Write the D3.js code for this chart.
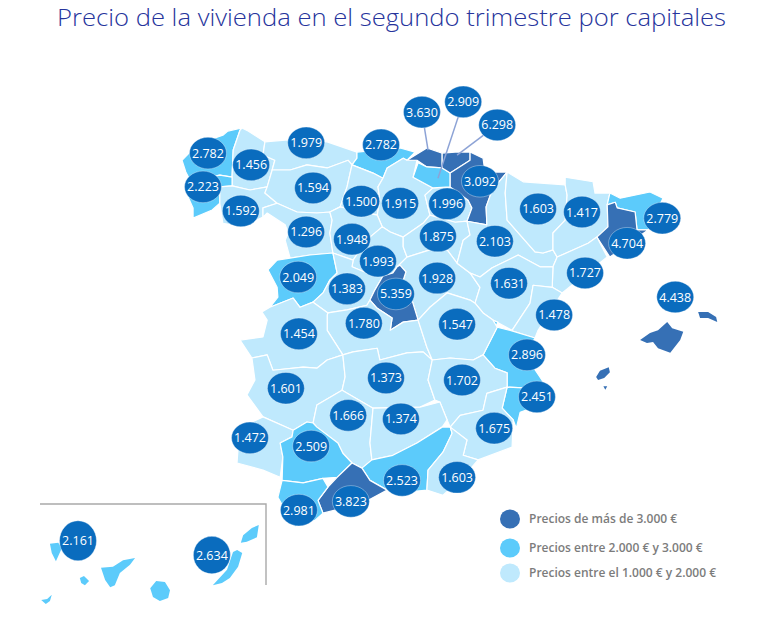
<!DOCTYPE html>
<html lang="es">
<head>
<meta charset="utf-8">
<title>Precio de la vivienda</title>
<script src="https://cdn.jsdelivr.net/npm/d3@7/dist/d3.min.js"></script>
<style>
html,body{margin:0;padding:0;background:#fff;}
svg{display:block;}
</style>
</head>
<body>
<svg id="chart" width="768" height="641"></svg>
<script>
const chartTitle = "Precio de la vivienda en el segundo trimestre por capitales";
const legendLabels = ["Precios de más de 3.000 €", "Precios entre 2.000 € y 3.000 €", "Precios entre el 1.000 € y 2.000 €"];
const tierThresholds = [2000, 3000];
const tierColors = ["#bfe9fd", "#5ccbfb", "#3670b5"];
const paleInReference = ["Zaragoza"];

const provinces = ["A Coruña","Lugo","Pontevedra","Ourense","Asturias","Cantabria","León","Palencia","Burgos","La Rioja","Zamora","Valladolid","Segovia","Soria","Salamanca","Ávila","Guadalajara","Bizkaia","Álava","Gipuzkoa","Navarra","Zaragoza","Huesca","Lleida","Girona","Barcelona","Tarragona","Teruel","Castellón","Valencia","Baleares","Madrid","Toledo","Cuenca","Cáceres","Badajoz","Ciudad Real","Albacete","Alicante","Murcia","Córdoba","Jaén","Huelva","Sevilla","Granada","Almería","Málaga","Cádiz","Santa Cruz de Tenerife","Las Palmas"];
const prices = [2782,1456,2223,1592,1979,2782,1594,1500,1915,1996,1296,1948,1993,1875,2049,1383,1928,3630,2909,6298,3092,2103,1603,1417,2779,4704,1727,1631,1478,2896,4438,5359,1780,1547,1454,1601,1373,1702,2451,1675,1666,1374,1472,2509,2523,1603,3823,2981,2161,2634];
const labelLon = [-8.62,-7.49,-8.75,-7.76,-6.05,-4.09,-5.87,-4.61,-3.59,-2.36,-6.05,-4.85,-4.17,-2.60,-6.26,-4.98,-2.62,-3.02,-1.94,-1.05,-1.50,-1.11,0.02,1.17,3.27,2.35,1.25,-0.74,0.44,-0.27,3.61,-3.70,-4.54,-2.10,-6.24,-6.58,-3.96,-1.97,-0.01,-1.13,-4.95,-3.57,-7.52,-5.92,-3.54,-2.10,-4.88,-6.24,-17.35,-14.44];
const labelLat = [43.30,43.07,42.64,42.17,43.50,43.46,42.62,42.36,42.32,42.31,41.76,41.62,41.19,41.68,40.88,40.65,40.86,44.10,44.30,43.85,42.75,41.58,42.21,42.15,42.03,41.54,40.96,40.76,40.14,39.36,40.49,40.55,39.98,39.96,39.77,38.71,38.91,38.87,38.54,37.93,38.18,38.11,37.74,37.58,36.91,36.97,36.50,36.33,28.92,28.64];
const canaryProvinces = ["Santa Cruz de Tenerife","Las Palmas"];
const islandProvinces = ["Baleares","Santa Cruz de Tenerife","Las Palmas"];
const leaderProvinces = ["Bizkaia","Álava","Gipuzkoa"];
const leaderTargets = [[-2.86,43.36],[-2.60,42.81],[-2.10,43.26]];

const outlines = {
"Lugo":[[[-7.73,43.79],[-7.57,43.73],[-7.13,43.52],[-7.18,43.26],[-6.87,43.16],[-6.94,42.97],[-7.07,42.64],[-7.52,42.58],[-7.99,42.66],[-7.99,42.83],[-7.96,43.36],[-7.78,43.75]]],
"Ourense":[[[-7.99,42.66],[-7.52,42.58],[-7.07,42.64],[-7.13,42.52],[-6.81,42.32],[-7.18,42.23],[-7.18,42.05],[-7.70,41.86],[-8.23,41.93],[-8.31,42.32],[-8.31,42.64]]],
"A Coruña":[[[-7.73,43.79],[-7.78,43.75],[-7.96,43.36],[-7.99,42.83],[-8.31,42.87],[-8.70,42.81],[-9.09,42.77],[-9.20,42.93],[-9.30,43.16],[-9.04,43.36],[-8.57,43.56],[-8.23,43.65],[-8.10,43.73]]],
"Pontevedra":[[[-9.09,42.77],[-8.70,42.81],[-8.31,42.87],[-7.99,42.83],[-7.99,42.66],[-8.31,42.64],[-8.31,42.32],[-8.51,42.19],[-9.01,42.03],[-9.01,42.23],[-9.20,42.54]]],
"Asturias":[[[-7.13,43.52],[-6.52,43.56],[-5.50,43.52],[-4.72,43.32],[-4.72,43.20],[-4.85,43.07],[-4.95,43.16],[-5.50,43.01],[-6.03,43.07],[-6.47,42.97],[-6.94,42.97],[-6.87,43.16],[-7.18,43.26]]],
"Cantabria":[[[-4.72,43.32],[-3.59,43.40],[-3.20,43.32],[-3.41,43.16],[-3.51,43.20],[-3.93,43.01],[-4.04,42.81],[-4.30,42.91],[-4.85,43.07],[-4.72,43.20]]],
"León":[[[-6.94,42.97],[-6.47,42.97],[-6.03,43.07],[-5.50,43.01],[-4.95,43.16],[-4.85,43.07],[-4.90,42.91],[-4.98,42.64],[-5.16,42.25],[-5.43,42.15],[-5.77,42.13],[-6.29,42.15],[-6.81,42.32],[-7.13,42.52],[-7.07,42.64]]],
"Palencia":[[[-4.85,43.07],[-4.30,42.91],[-4.04,42.81],[-4.17,42.64],[-4.12,42.38],[-4.19,42.09],[-5.16,42.25],[-4.98,42.64],[-4.90,42.91]]],
"Burgos":[[[-3.93,43.01],[-3.51,43.20],[-3.41,43.16],[-3.15,43.16],[-3.25,42.83],[-2.73,42.62],[-2.94,42.48],[-2.81,42.09],[-2.99,41.93],[-3.51,41.66],[-3.85,41.76],[-4.06,41.86],[-4.19,42.09],[-4.12,42.38],[-4.17,42.64],[-4.04,42.81]]],
"Bizkaia":[[[-3.41,43.16],[-3.20,43.26],[-2.89,43.40],[-2.49,43.30],[-2.49,43.01],[-2.89,43.03],[-3.15,43.16]]],
"Gipuzkoa":[[[-2.49,43.30],[-2.15,43.32],[-1.76,43.32],[-1.76,43.16],[-2.28,42.91],[-2.49,43.01]]],
"Álava":[[[-3.12,43.11],[-2.89,43.03],[-2.49,43.01],[-2.28,42.91],[-2.28,42.64],[-2.73,42.62],[-3.25,42.83]]],
"Navarra":[[[-1.76,43.32],[-1.42,43.20],[-1.37,42.93],[-0.79,42.93],[-1.18,42.58],[-1.34,42.25],[-1.32,41.90],[-1.84,41.97],[-1.71,42.23],[-1.81,42.38],[-2.28,42.64],[-2.28,42.91],[-1.76,43.16]]],
"La Rioja":[[[-2.94,42.48],[-2.73,42.62],[-2.28,42.64],[-1.81,42.38],[-1.71,42.23],[-1.84,41.97],[-2.15,41.95],[-2.81,42.09]]],
"Soria":[[[-2.99,41.93],[-2.81,42.09],[-2.15,41.95],[-1.84,41.97],[-1.76,41.70],[-1.94,41.60],[-2.10,41.15],[-2.36,41.41],[-2.81,41.41],[-3.41,41.27],[-3.51,41.47],[-3.51,41.66]]],
"Zamora":[[[-7.18,42.23],[-6.81,42.32],[-6.29,42.15],[-5.77,42.13],[-5.43,42.15],[-5.37,41.99],[-5.43,41.74],[-5.35,41.35],[-5.95,41.31],[-6.47,41.25],[-6.60,41.60],[-6.52,41.74],[-6.60,41.90],[-7.07,42.13],[-7.18,42.05]]],
"Valladolid":[[[-5.43,42.15],[-5.16,42.25],[-4.19,42.09],[-4.06,41.86],[-4.38,41.66],[-4.64,41.41],[-4.82,41.21],[-5.35,41.35],[-5.43,41.74],[-5.37,41.99]]],
"Salamanca":[[[-7.05,41.02],[-6.81,41.21],[-6.47,41.25],[-5.95,41.31],[-5.35,41.35],[-5.24,40.96],[-5.43,40.82],[-5.61,40.57],[-5.87,40.39],[-6.21,40.29],[-6.39,40.47],[-7.00,40.29],[-6.79,40.49],[-6.81,40.68]]],
"Ávila":[[[-5.35,41.35],[-4.82,41.21],[-4.85,41.08],[-4.46,40.96],[-4.04,40.90],[-4.25,40.63],[-4.38,40.43],[-4.46,40.33],[-4.98,40.24],[-5.48,40.18],[-5.87,40.39],[-5.61,40.57],[-5.43,40.82],[-5.24,40.96]]],
"Segovia":[[[-4.06,41.86],[-3.85,41.76],[-3.51,41.66],[-3.51,41.47],[-3.41,41.27],[-3.67,41.08],[-3.78,40.96],[-4.04,40.90],[-4.46,40.96],[-4.85,41.08],[-4.82,41.21],[-4.64,41.41],[-4.38,41.66]]],
"Guadalajara":[[[-3.41,41.27],[-2.81,41.41],[-2.36,41.41],[-2.10,41.15],[-1.76,40.96],[-1.50,40.68],[-1.63,40.37],[-1.76,40.43],[-2.36,40.57],[-2.81,40.29],[-3.12,40.04],[-3.28,40.43],[-3.51,40.82],[-3.44,40.98],[-3.59,41.11],[-3.67,41.08]]],
"Cuenca":[[[-3.12,40.04],[-2.81,40.29],[-2.36,40.57],[-1.76,40.43],[-1.63,40.37],[-1.42,40.18],[-1.16,40.04],[-1.05,39.90],[-1.42,39.36],[-1.68,39.26],[-2.28,39.30],[-2.75,39.26],[-2.89,39.51]]],
"Toledo":[[[-5.48,40.18],[-4.98,40.24],[-4.46,40.33],[-4.38,40.43],[-4.19,40.27],[-3.80,40.08],[-3.85,39.84],[-3.51,40.00],[-3.12,40.04],[-2.89,39.51],[-2.75,39.26],[-2.99,39.42],[-3.41,39.40],[-4.12,39.26],[-4.19,39.49],[-4.82,39.42],[-5.09,39.36],[-5.50,39.84],[-5.50,40.14]]],
"Madrid":[[[-3.67,41.08],[-3.59,41.11],[-3.44,40.98],[-3.51,40.82],[-3.28,40.43],[-3.12,40.04],[-3.51,40.00],[-3.85,39.84],[-3.80,40.08],[-4.19,40.27],[-4.38,40.43],[-4.25,40.63],[-4.04,40.90],[-3.78,40.96]]],
"Cáceres":[[[-7.21,40.20],[-7.00,40.29],[-6.39,40.47],[-6.21,40.29],[-5.87,40.39],[-5.48,40.18],[-5.50,40.14],[-5.50,39.84],[-5.09,39.36],[-5.50,39.26],[-5.77,39.10],[-6.13,39.12],[-6.92,39.06],[-7.07,39.36],[-7.47,39.30],[-7.78,39.65],[-7.18,39.71],[-7.07,40.04]]],
"Badajoz":[[[-7.47,39.30],[-7.07,39.36],[-6.92,39.06],[-6.13,39.12],[-5.77,39.10],[-5.50,39.26],[-5.09,39.36],[-5.03,38.93],[-5.11,38.67],[-5.77,38.38],[-5.87,38.03],[-6.03,38.05],[-6.39,37.89],[-7.18,38.15],[-7.60,38.58],[-7.39,38.87]]],
"Huelva":[[[-7.18,38.15],[-6.39,37.89],[-6.42,37.76],[-6.73,37.64],[-6.66,37.37],[-6.73,36.97],[-7.18,37.11],[-7.86,37.25],[-7.83,37.56],[-7.52,38.03]]],
"Sevilla":[[[-6.39,37.89],[-6.03,38.05],[-5.87,38.03],[-5.77,37.95],[-5.22,37.64],[-5.09,37.44],[-4.85,37.25],[-5.24,36.97],[-5.61,36.95],[-6.13,36.86],[-6.68,36.91],[-6.66,37.37],[-6.73,37.64],[-6.42,37.76]]],
"Córdoba":[[[-5.77,38.38],[-5.11,38.67],[-4.30,38.32],[-4.38,37.64],[-4.33,37.31],[-4.59,37.15],[-4.85,37.25],[-5.09,37.44],[-5.22,37.64],[-5.77,37.95],[-5.87,38.03]]],
"Ciudad Real":[[[-4.82,39.42],[-4.19,39.49],[-4.12,39.26],[-3.41,39.40],[-2.99,39.42],[-2.75,39.26],[-2.86,38.87],[-2.68,38.48],[-3.07,38.34],[-4.30,38.32],[-5.11,38.67],[-5.03,38.93],[-5.09,39.36]]],
"Jaén":[[[-4.30,38.32],[-3.07,38.34],[-2.55,38.44],[-2.36,38.09],[-2.49,37.95],[-3.15,37.64],[-3.78,37.40],[-4.33,37.31],[-4.38,37.64]]],
"Albacete":[[[-2.75,39.26],[-2.28,39.30],[-1.68,39.26],[-1.42,39.36],[-1.11,39.10],[-0.79,39.01],[-0.79,38.73],[-1.32,38.61],[-1.42,38.28],[-2.02,38.18],[-2.28,37.95],[-2.36,38.09],[-2.55,38.44],[-2.68,38.48],[-2.86,38.87]]],
"Murcia":[[[-2.28,37.95],[-2.02,38.18],[-1.42,38.28],[-1.32,38.61],[-0.79,38.73],[-0.92,38.32],[-0.63,38.09],[-0.66,37.56],[-1.55,37.31],[-1.94,37.40],[-1.84,37.70]]],
"Alicante":[[[-0.79,38.73],[-0.24,38.71],[0.33,38.58],[0.07,38.38],[-0.45,38.24],[-0.55,37.93],[-0.63,38.09],[-0.92,38.32]]],
"Almería":[[[-2.28,37.95],[-1.84,37.70],[-1.94,37.40],[-1.55,37.31],[-1.94,36.97],[-2.47,36.62],[-2.89,36.72],[-2.86,37.11],[-2.47,37.46],[-2.23,37.83]]],
"Granada":[[[-4.33,37.31],[-3.78,37.40],[-3.15,37.64],[-2.49,37.95],[-2.28,37.95],[-2.23,37.83],[-2.47,37.46],[-2.86,37.11],[-2.89,36.72],[-3.67,36.66],[-3.93,36.72],[-4.38,36.91],[-4.59,37.15]]],
"Málaga":[[[-4.59,37.15],[-4.38,36.91],[-3.93,36.72],[-4.56,36.47],[-5.61,36.27],[-5.74,36.52],[-5.48,36.78],[-5.24,36.97],[-4.85,37.25]]],
"Cádiz":[[[-6.68,36.91],[-6.13,36.86],[-5.61,36.95],[-5.48,36.78],[-5.74,36.52],[-5.61,36.27],[-5.82,36.13],[-6.34,36.00],[-6.60,36.33],[-6.79,36.58]]],
"Zaragoza":[[[-1.32,41.90],[-1.84,41.97],[-1.76,41.70],[-1.94,41.60],[-2.10,41.15],[-1.76,40.96],[-1.50,40.88],[-1.18,41.06],[-0.50,41.31],[0.07,41.08],[0.41,41.08],[0.52,41.27],[0.41,41.41],[0.15,41.35],[-0.06,41.37],[-0.40,41.66],[-0.79,41.99],[-0.84,42.52],[-0.79,42.93],[-1.18,42.58],[-1.34,42.25]]],
"Huesca":[[[-0.79,42.93],[-0.37,42.74],[0.73,42.68],[0.78,42.48],[0.73,41.99],[0.41,41.74],[0.41,41.41],[0.15,41.35],[-0.06,41.37],[-0.40,41.66],[-0.79,41.99],[-0.84,42.52]]],
"Lleida":[[[0.73,42.83],[1.46,42.74],[1.51,42.52],[1.90,42.52],[1.83,42.29],[1.85,41.86],[1.56,41.66],[1.33,41.54],[0.52,41.27],[0.41,41.41],[0.41,41.74],[0.73,41.99],[0.78,42.48],[0.73,42.68]]],
"Tarragona":[[[0.52,41.27],[1.33,41.54],[1.56,41.66],[1.83,41.27],[0.65,40.57],[0.39,40.68],[0.41,41.08]]],
"Barcelona":[[[1.83,42.29],[2.04,42.34],[2.09,42.23],[2.56,42.15],[2.61,41.80],[2.90,41.80],[1.90,41.27],[1.56,41.66],[1.85,41.86]]],
"Girona":[[[1.90,42.52],[2.17,42.42],[2.95,42.54],[3.29,42.42],[3.14,42.19],[2.95,41.86],[2.90,41.80],[2.61,41.80],[2.56,42.15],[2.09,42.23],[2.04,42.34],[1.83,42.29]]],
"Teruel":[[[-1.76,40.96],[-1.50,40.88],[-1.18,41.06],[-0.50,41.31],[0.07,41.08],[0.41,41.08],[0.39,40.68],[-0.11,40.72],[-0.19,40.37],[-0.66,39.84],[-1.16,40.04],[-1.42,40.18],[-1.63,40.37],[-1.50,40.68]]],
"Castellón":[[[-0.11,40.72],[0.39,40.68],[0.65,40.57],[0.02,39.84],[-0.06,39.69],[-0.71,39.84],[-0.66,39.84],[-0.19,40.37]]],
"Valencia":[[[-1.05,39.90],[-0.71,39.84],[-0.06,39.69],[-0.32,39.36],[0.12,38.87],[0.33,38.58],[-0.24,38.71],[-0.79,38.73],[-0.79,39.01],[-1.11,39.10],[-1.42,39.36]],[[-1.32,40.08],[-1.03,40.00],[-1.08,39.92],[-1.29,39.94]]],
"Baleares":[[[2.69,39.65],[2.95,39.79],[3.16,39.84],[3.40,40.00],[3.53,39.88],[3.82,39.81],[3.74,39.65],[3.48,39.40],[3.16,39.49],[3.03,39.61],[2.87,39.59]],[[4.21,40.20],[4.47,40.20],[4.68,40.10],[4.71,40.00],[4.47,40.08],[4.26,40.08]],[[1.54,38.93],[1.64,39.05],[1.87,39.12],[1.90,39.02],[1.75,38.91],[1.59,38.87]],[[1.73,38.75],[1.83,38.75],[1.78,38.68]]],
"Santa Cruz de Tenerife":[[[-17.96,28.86],[-17.78,28.88],[-17.70,28.78],[-17.83,28.52],[-17.92,28.68]],[[-16.85,28.39],[-16.59,28.41],[-16.37,28.54],[-16.11,28.58],[-16.22,28.45],[-16.44,28.29],[-16.55,28.05],[-16.65,28.01],[-16.76,28.15]],[[-17.31,28.19],[-17.22,28.23],[-17.11,28.13],[-17.20,28.05],[-17.28,28.09]],[[-18.15,27.76],[-18.02,27.78],[-17.92,27.86],[-17.96,27.74],[-18.05,27.68]]],
"Las Palmas":[[[-15.78,27.99],[-15.65,28.13],[-15.46,28.11],[-15.35,27.95],[-15.39,27.80],[-15.57,27.74],[-15.72,27.82]],[[-13.89,28.74],[-13.98,28.70],[-14.11,28.35],[-14.42,28.05],[-14.22,28.09],[-14.05,28.19],[-13.87,28.41],[-13.78,28.68]],[[-13.81,28.88],[-13.76,29.03],[-13.57,29.17],[-13.42,29.23],[-13.46,28.99],[-13.68,28.90]]]
};

const svg = d3.select("#chart");
const x = d3.scaleLinear().domain([-9.30, 3.29]).range([182, 663]);
const y = d3.scaleLinear().domain([43.79, 36.00]).range([128, 527]);
const insetX = d3.scaleLinear().domain([-17.85, -13.6]).range([55, 250.5]);
const insetY = d3.scaleLinear().domain([28.7, 27.95]).range([552, 590.25]);
const tier = d3.scaleThreshold().domain(tierThresholds).range(tierColors);
const fmt = d3.formatLocale({decimal:",", thousands:".", grouping:[3], currency:["","€"]}).format(",");
const isCanary = n => canaryProvinces.includes(n);
const px = n => isCanary(n) ? insetX : x;
const py = n => isCanary(n) ? insetY : y;

svg.append("text").attr("x", 57).attr("y", 26)
  .attr("font-family", "'Open Sans'").attr("font-size", 24).attr("font-weight", 300).attr("fill", "#26349c")
  .attr("textLength", 669).attr("lengthAdjust", "spacingAndGlyphs").text(chartTitle);

const regions = provinces.map((name, i) => ({name, price: prices[i], lon: labelLon[i], lat: labelLat[i]}));

const ringPath = d3.line().curve(d3.curveLinearClosed);
svg.append("g").selectAll("path").data(regions).join("path")
  .attr("d", d => outlines[d.name].map(r => ringPath(r.map(c => [px(d.name)(c[0]), py(d.name)(c[1])]))).join(""))
  .attr("fill", d => paleInReference.includes(d.name) ? tierColors[0] : tier(d.price))
  .attr("stroke", "#fff").attr("stroke-width", d => islandProvinces.includes(d.name) ? 0 : 1.2).attr("stroke-linejoin", "round");

svg.append("path")
  .attr("d", d3.line()([[40,504],[266,504],[266,585]]))
  .attr("fill", "none").attr("stroke", "#a9a9a9").attr("stroke-width", 1.4);

svg.append("g").selectAll("line").data(leaderProvinces).join("line")
  .attr("x1", n => x(labelLon[provinces.indexOf(n)])).attr("y1", n => y(labelLat[provinces.indexOf(n)]))
  .attr("x2", (n, i) => x(leaderTargets[i][0])).attr("y2", (n, i) => y(leaderTargets[i][1]))
  .attr("stroke", "#8da3d6").attr("stroke-width", 1.5);

const bubble = svg.append("g").selectAll("g").data(regions).join("g")
  .attr("transform", d => `translate(${px(d.name)(d.lon)},${py(d.name)(d.lat)})`);
bubble.append("ellipse")
  .attr("rx", 18.5)
  .attr("ry", d => d.name === "Santa Cruz de Tenerife" ? 20 : d.name === "Las Palmas" ? 18.7 : 15.8)
  .attr("fill", "#0a6cbe")
  .attr("stroke", "#fff").attr("stroke-opacity", 0.5).attr("stroke-width", 0.7);
bubble.append("text").attr("text-anchor", "middle").attr("dy", "0.36em")
  .attr("font-family", "'Open Sans'").attr("font-size", 12.5).attr("fill", "#fff")
  .text(d => fmt(d.price));

const legend = svg.append("g").selectAll("g").data(legendLabels).join("g")
  .attr("transform", (d, i) => `translate(510,${[519, 548, 573][i]})`);
legend.append("ellipse").attr("rx", 10).attr("ry", 9.5)
  .attr("fill", (d, i) => [tierColors[2], tierColors[1], tierColors[0]][i]);
legend.append("text").attr("x", 19).attr("dy", "0.35em")
  .attr("font-family", "'Open Sans'").attr("font-size", 12).attr("font-weight", 600).attr("fill", "#7c7c7c")
  .text(d => d);
</script>
</body>
</html>
